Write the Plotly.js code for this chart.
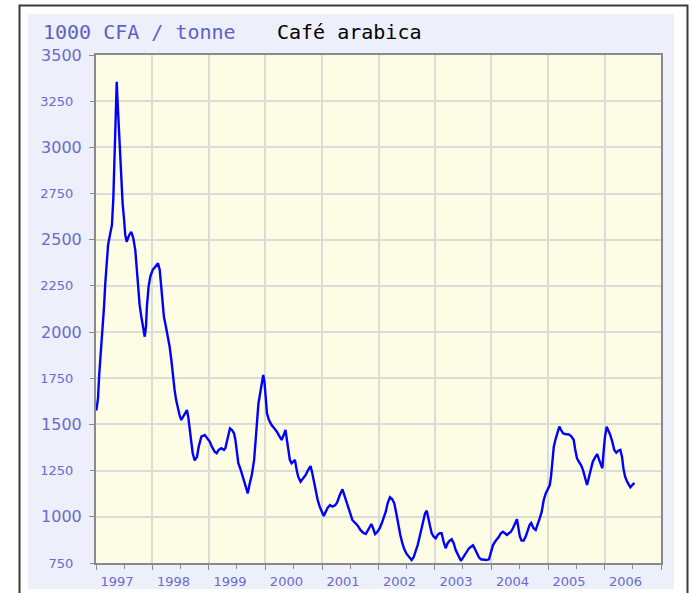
<!DOCTYPE html>
<html><head><meta charset="utf-8">
<script src="https://cdn.plot.ly/plotly-3.0.1.min.js"></script>
<style>html,body{margin:0;padding:0;background:#fff}#chart{width:690px;height:593px}</style>
</head><body><div id="chart"></div>
<script>
const unitLabel = "1000 CFA / tonne";
const seriesName = "Café arabica";

const dates = [
"1997-01-03","1997-01-14","1997-01-22","1997-02-02","1997-02-11","1997-02-22","1997-03-02","1997-03-11","1997-03-20","1997-03-28",
"1997-04-06","1997-04-14","1997-04-23","1997-05-02","1997-05-10","1997-05-15","1997-05-19","1997-05-28","1997-06-05","1997-06-13",
"1997-06-22","1997-07-01","1997-07-09","1997-07-18","1997-07-27","1997-08-04","1997-08-17","1997-08-30","1997-09-12","1997-09-21",
"1997-09-29","1997-10-10","1997-10-21","1997-11-01","1997-11-12","1997-11-20","1997-11-26","1997-12-07","1997-12-18",
"1998-01-02","1998-01-19","1998-02-06","1998-02-17","1998-02-25","1998-03-06","1998-03-16","1998-03-29","1998-04-11","1998-04-22",
"1998-05-03","1998-05-13","1998-05-24","1998-06-03","1998-06-14","1998-06-25","1998-07-06","1998-07-17","1998-07-28","1998-08-12",
"1998-08-20","1998-08-29","1998-09-07","1998-09-18","1998-10-01","1998-10-16","1998-10-27","1998-11-13","1998-12-05","1998-12-22",
"1999-01-06","1999-01-20","1999-02-07","1999-02-20","1999-03-05","1999-03-22","1999-04-08","1999-04-17","1999-04-28","1999-05-09",
"1999-05-17","1999-05-30","1999-06-12","1999-06-21","1999-06-30","1999-07-10","1999-07-26","1999-08-12","1999-08-27","1999-09-09",
"1999-09-22","1999-10-05","1999-10-20","1999-10-31","1999-11-09","1999-11-17","1999-11-28","1999-12-09","1999-12-18","1999-12-26",
"2000-01-02","2000-01-11","2000-01-24","2000-02-10","2000-02-27","2000-03-15","2000-04-02","2000-04-15","2000-04-28","2000-05-10",
"2000-05-19","2000-05-27","2000-06-07","2000-06-18","2000-06-29","2000-07-10","2000-07-21","2000-07-31","2000-08-15","2000-09-01",
"2000-09-17","2000-10-03","2000-10-19","2000-10-30","2000-11-10","2000-11-21","2000-12-04","2000-12-17","2000-12-30",
"2001-01-12","2001-01-25","2001-02-07","2001-02-22","2001-03-09","2001-03-26","2001-04-08","2001-04-26","2001-05-13","2001-05-25",
"2001-06-07","2001-06-20","2001-07-03","2001-07-16","2001-08-02","2001-08-20","2001-09-06","2001-09-23","2001-10-11","2001-10-24",
"2001-11-06","2001-11-16","2001-11-27","2001-12-10","2001-12-25",
"2002-01-09","2002-01-22","2002-02-04","2002-02-17","2002-03-01","2002-03-16","2002-03-31","2002-04-13","2002-04-26","2002-05-09",
"2002-05-22","2002-06-04","2002-06-17","2002-07-02","2002-07-17","2002-08-03","2002-08-16","2002-08-29","2002-09-11","2002-09-24",
"2002-10-07","2002-10-20","2002-10-29","2002-11-09","2002-11-19","2002-11-30","2002-12-11","2002-12-24",
"2003-01-06","2003-01-18","2003-01-31","2003-02-13","2003-02-26","2003-03-11","2003-03-24","2003-04-06","2003-04-19","2003-05-02",
"2003-05-15","2003-05-28","2003-06-10","2003-06-18","2003-07-01","2003-07-14","2003-07-27","2003-08-09","2003-08-22","2003-09-04",
"2003-09-17","2003-09-29","2003-10-12","2003-10-25","2003-11-12","2003-11-29","2003-12-16","2003-12-30",
"2004-01-11","2004-01-24","2004-02-06","2004-02-18","2004-03-02","2004-03-15","2004-03-28","2004-04-10","2004-04-23","2004-05-06",
"2004-05-19","2004-06-01","2004-06-14","2004-06-22","2004-07-03","2004-07-14","2004-07-27","2004-08-09","2004-08-22","2004-09-04",
"2004-09-14","2004-09-29","2004-10-13","2004-10-26","2004-11-08","2004-11-21","2004-12-04","2004-12-17","2004-12-30",
"2005-01-12","2005-01-20","2005-01-29","2005-02-07","2005-02-20","2005-03-05","2005-03-15","2005-03-26","2005-04-08","2005-04-25",
"2005-05-12","2005-05-30","2005-06-16","2005-06-24","2005-07-07","2005-07-20","2005-08-02","2005-08-15","2005-08-28","2005-09-10",
"2005-09-23","2005-10-04","2005-10-17","2005-11-01","2005-11-14","2005-11-27","2005-12-10","2005-12-18","2005-12-25",
"2006-01-04","2006-01-15","2006-01-26","2006-02-07","2006-02-20","2006-03-05","2006-03-18","2006-03-31","2006-04-13","2006-04-24",
"2006-05-03","2006-05-14","2006-05-27","2006-06-09","2006-06-17","2006-06-30","2006-07-13"
];

const prices = [
1575,1641,1773,1885,2015,2138,2264,2390,2471,2508,
2543,2580,2724,2977,3229,3355,3274,3121,2968,2814,
2697,2616,2526,2489,2511,2526,2543,2508,2444,2354,
2237,2147,2083,2033,1975,2029,2138,2246,2300,
2336,2354,2372,2336,2264,2174,2083,2029,1975,1921,
1849,1759,1687,1632,1587,1551,1524,1542,1560,1578,
1542,1470,1398,1344,1305,1325,1380,1434,1443,1425,
1407,1380,1352,1344,1362,1371,1362,1371,1416,1452,
1479,1470,1452,1416,1362,1290,1253,1209,1172,1127,
1181,1226,1308,1425,1542,1614,1669,1731,1768,1731,
1650,1560,1524,1497,1479,1461,1434,1416,1443,1470,
1416,1362,1308,1290,1298,1308,1253,1217,1190,1209,
1226,1253,1275,1236,1190,1136,1091,1055,1028,
1004,1028,1049,1064,1055,1062,1077,1118,1149,1118,
1082,1046,1010,983,968,952,929,914,907,929,
950,961,938,907,919,
938,965,992,1028,1073,1106,1095,1073,1019,956,
902,857,824,799,781,766,781,811,847,892,
938,992,1019,1033,1001,950,911,892,
883,902,911,911,865,830,857,871,878,857,
820,793,775,762,781,799,817,830,838,846,
824,799,781,770,766,766,770,820,
847,865,878,892,911,919,911,902,911,919,
938,961,987,947,892,871,871,892,929,956,
966,938,929,956,992,1028,1091,1127,1149,
1172,1217,1308,1380,1425,1461,1488,1470,1452,1447,
1447,1437,1416,1371,1317,1298,1280,1253,1209,1172,
1217,1263,1298,1322,1340,1308,1280,1263,1344,
1434,1488,1470,1443,1407,1362,1347,1358,1362,1325,
1263,1217,1190,1172,1160,1172,1184
];

const yearTicks = ["1997-01-01","1998-01-01","1999-01-01","2000-01-01","2001-01-01","2002-01-01","2003-01-01","2004-01-01","2005-01-01","2006-01-01","2007-01-01"];
const yearLabels = ["1997","1998","1999","2000","2001","2002","2003","2004","2005","2006",""];
const midYearTicks = ["1997-07-01","1998-07-01","1999-07-01","2000-07-01","2001-07-01","2002-07-01","2003-07-01","2004-07-01","2005-07-01","2006-07-01"];
const bigYTicks = [1000,1500,2000,2500,3000,3500];
const bigYLabels = ["1000","1500","2000","2500","3000","3500"];
const smallYTicks = [750,1250,1750,2250,2750,3250];
const smallYLabels = ["750","1250","1750","2250","2750","3250"];

const W=690,H=593,L=96,R=29,T=55,B=30;
const pw=W-L-R, ph=H-T-B;
const px = v => (v-L)/pw;
const py = v => (H-B-v)/ph;

const labelColor = "#6a6acc";
const gridColor = "#dcdcd6";
const lineColor = "#8a8a8a";

const trace = {
  x: dates, y: prices, type: "scatter", mode: "lines",
  line: {color: "#0000ff", width: 2.4}, hoverinfo: "skip", showlegend: false
};
// carrier trace so the second (small-label) y axis is built; drawn invisibly
const carrier = {
  x: dates, y: prices, type: "scatter", mode: "lines", yaxis: "y2",
  line: {color: "rgba(0,0,0,0)", width: 0}, opacity: 0, hoverinfo: "skip", showlegend: false
};

const layout = {
  width: W, height: H,
  margin: {l: L, r: R, t: T, b: B, pad: 0},
  paper_bgcolor: "#ffffff",
  plot_bgcolor: "#fdfde6",
  showlegend: false,
  xaxis: {
    type: "date", range: ["1997-01-01","2007-01-01"],
    tickmode: "array", tickvals: yearTicks, ticktext: yearLabels,
    ticklabelshift: 21,
    ticks: "outside", ticklen: 5, tickwidth: 1, tickcolor: lineColor,
    tickfont: {family: "DejaVu Sans", size: 13, color: labelColor},
    showgrid: true, gridcolor: gridColor, gridwidth: 2,
    showline: true, linecolor: lineColor, linewidth: 2, mirror: true,
    zeroline: false, fixedrange: true,
    minor: {tickmode: "array", tickvals: midYearTicks, ticks: "outside", ticklen: 4, tickcolor: lineColor, showgrid: false}
  },
  yaxis: {
    range: [750, 3500],
    tickmode: "array", tickvals: bigYTicks, ticktext: bigYLabels,
    ticks: "outside", ticklen: 5, tickwidth: 1, tickcolor: lineColor,
    ticklabelstandoff: 4,
    tickfont: {family: "DejaVu Sans", size: 16, color: labelColor},
    showgrid: true, gridcolor: gridColor, gridwidth: 2,
    showline: true, linecolor: lineColor, linewidth: 2, mirror: true,
    zeroline: false, fixedrange: true
  },
  yaxis2: {
    range: [750, 3500], overlaying: "y", side: "left", anchor: "x",
    tickmode: "array", tickvals: smallYTicks, ticktext: smallYLabels,
    ticks: "outside", ticklen: 5, tickwidth: 1, tickcolor: lineColor,
    ticklabelstandoff: 14,
    tickfont: {family: "DejaVu Sans", size: 13, color: labelColor},
    showgrid: true, gridcolor: gridColor, gridwidth: 2,
    showline: false, zeroline: false, fixedrange: true
  },
  shapes: [
    {type: "rect", xref: "paper", yref: "paper", layer: "below",
     x0: px(19.5), x1: px(687.5), y0: py(605), y1: py(5.5),
     line: {color: "#3a3a3a", width: 2}, fillcolor: "rgba(0,0,0,0)"},
    {type: "rect", xref: "paper", yref: "paper", layer: "below",
     x0: px(28), x1: px(674), y0: py(589), y1: py(14),
     line: {width: 0}, fillcolor: "#edf0fa"},
    {type: "rect", xref: "paper", yref: "paper", layer: "below",
     x0: 0, x1: 1, y0: 0, y1: 1,
     line: {width: 0}, fillcolor: "#fdfde6"}
  ],
  annotations: [
    {text: unitLabel, xref: "paper", yref: "paper", x: px(41), y: py(32),
     xanchor: "left", yanchor: "middle", showarrow: false,
     font: {family: "DejaVu Sans Mono", size: 20, color: "#5f5fc8"}},
    {text: seriesName, xref: "paper", yref: "paper", x: px(275), y: py(32),
     xanchor: "left", yanchor: "middle", showarrow: false,
     font: {family: "DejaVu Sans Mono", size: 20, color: "#000000"}}
  ]
};

Plotly.newPlot("chart", [trace, carrier], layout, {staticPlot: true, displayModeBar: false});
</script>
</body></html>
